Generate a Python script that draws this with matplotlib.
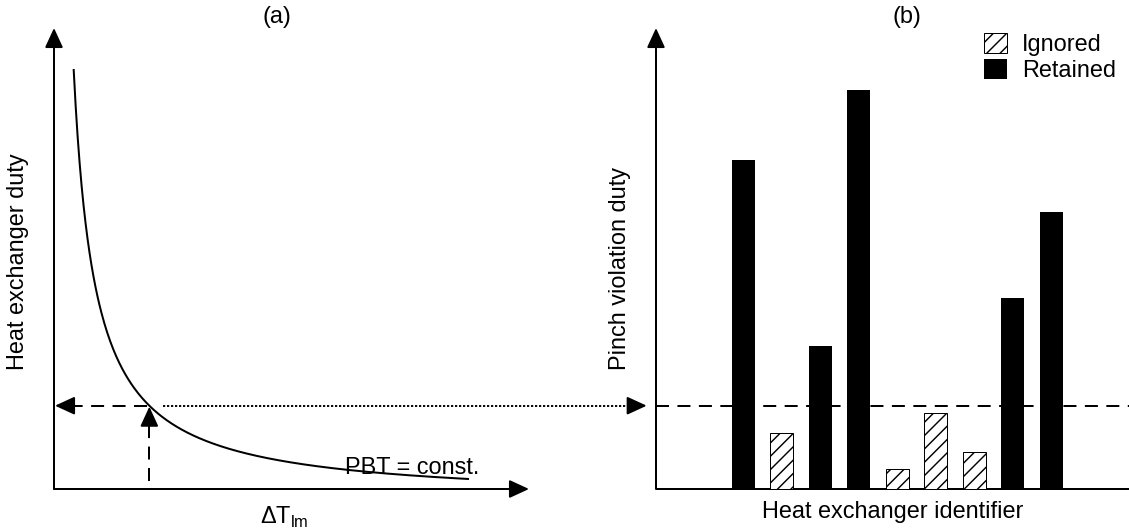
import matplotlib.pyplot as plt
import numpy as np

plt.rcParams['font.family'] = ['Liberation Sans', 'DejaVu Sans']
plt.rcParams['mathtext.fontset'] = 'custom'
plt.rcParams['mathtext.rm'] = 'Liberation Sans'
plt.rcParams['hatch.linewidth'] = 1.3
plt.rcParams['lines.scale_dashes'] = False

# pinch violation duty per heat exchanger (arbitrary units, schematic)
exchangers = list(range(9))
violation_duty = [329, 56, 143, 399, 20, 76, 37, 191, 277]
status = ['Retained', 'Ignored', 'Retained', 'Retained', 'Ignored',
          'Ignored', 'Ignored', 'Retained', 'Retained']
duty_threshold = 83.3

# constant PBT curve: duty = PBT / (dT + dt_offset) - duty_offset
pbt_const = 9290
dt_offset = 1.84
duty_offset = 12.3
dt_start, dt_end = 19.7, 414

W, H = 1129, 532
DPI = 80
FS = 21.2
LW = 1.8
DASH = (0, (11.7, 7.6))
DOT = (0, (2.0, 1.6))
HEAD = '-|>,head_length=0.5,head_width=0.23'


def fx(px):
    return px / W


def fy(py):
    return 1 - py / H


def arrow(ax, tip, tail, **kw):
    ax.annotate('', xy=tip, xytext=tail, annotation_clip=False,
                arrowprops=dict(arrowstyle=HEAD, mutation_scale=30, lw=LW,
                                color='black', shrinkA=0, shrinkB=0), **kw)


fig = plt.figure(figsize=(W / DPI, H / DPI), dpi=DPI)

# (a) duty vs log mean temperature difference
ax1 = fig.add_axes([fx(54), fy(489), fx(475), 461 / H])
ax1.set_xlim(0, 475)
ax1.set_ylim(0, 461)
ax1.axis('off')

arrow(ax1, (0, 461), (0, 0))
arrow(ax1, (475, 0), (0, 0))

dt = np.linspace(dt_start, dt_end, 400)
ax1.plot(dt, pbt_const / (dt + dt_offset) - duty_offset, color='black', lw=LW)

dt_cross = pbt_const / (duty_threshold + duty_offset) - dt_offset
# dashed guides from the operating point
ax1.plot([dt_cross - 2.6, 16.7], [duty_threshold] * 2, color='black', lw=LW, ls=DASH)
arrow(ax1, (1, duty_threshold), (16.7, duty_threshold))
ax1.plot([dt_cross, dt_cross], [8.3, 66.3], color='black', lw=LW, ls=DASH)
arrow(ax1, (dt_cross, duty_threshold - 1), (dt_cross, 66.3))
# dotted link to panel (b)
ax1.plot([109, 576.7], [duty_threshold] * 2, color='black', lw=1.7, ls=DOT,
         clip_on=False)
arrow(ax1, (592.7, duty_threshold), (576.7, duty_threshold))

ax1.text(345 - 54, 489 - 474, 'PBT = const.', fontsize=FS, va='baseline', ha='left')

# (b) pinch violation duty per exchanger
ax2 = fig.add_axes([fx(656), fy(489), fx(473), 461 / H])
ax2.set_xlim(-2.268, 10.02)
ax2.set_ylim(0, 461)
ax2.axis('off')

ax2.plot([0, 1], [0, 0], color='black', lw=LW, transform=ax2.transAxes,
         clip_on=False, solid_capstyle='butt')
arrow(ax2, (0, 1), (0, 0), xycoords='axes fraction', textcoords='axes fraction')
ax2.axhline(duty_threshold, color='black', lw=LW, ls=DASH, zorder=1)

for kind in ['Ignored', 'Retained']:
    xs = [x for x, s in zip(exchangers, status) if s == kind]
    ys = [y for y, s in zip(violation_duty, status) if s == kind]
    if kind == 'Ignored':
        ax2.bar(xs, ys, width=0.605, color='white', edgecolor='black',
                hatch='//', lw=0.9, label=kind, zorder=2)
    else:
        ax2.bar(xs, ys, width=0.605, color='black', edgecolor='black',
                lw=0, label=kind, zorder=2)

ax2.legend(loc='upper left', bbox_to_anchor=(fx(984), fy(33)),
           bbox_transform=fig.transFigure, frameon=False, fontsize=FS,
           borderpad=0, handlelength=0.97, handleheight=0.9,
           handletextpad=0.65, labelspacing=0.15, borderaxespad=0)

# labels
fig.text(fx(277), fy(17), '(a)', fontsize=FS, ha='center', va='center')
fig.text(fx(907), fy(17), '(b)', fontsize=FS, ha='center', va='center')
fig.text(fx(284), fy(517), r'ΔT$_{\mathrm{lm}}$', fontsize=FS, ha='center', va='center')
fig.text(fx(893), fy(512), 'Heat exchanger identifier', fontsize=FS,
         ha='center', va='center')
fig.text(fx(18), fy(262), 'Heat exchanger duty', fontsize=FS, rotation=90,
         ha='center', va='center')
fig.text(fx(620), fy(268), 'Pinch violation duty', fontsize=FS, rotation=90,
         ha='center', va='center')

fig.savefig('out.png', dpi=DPI)
